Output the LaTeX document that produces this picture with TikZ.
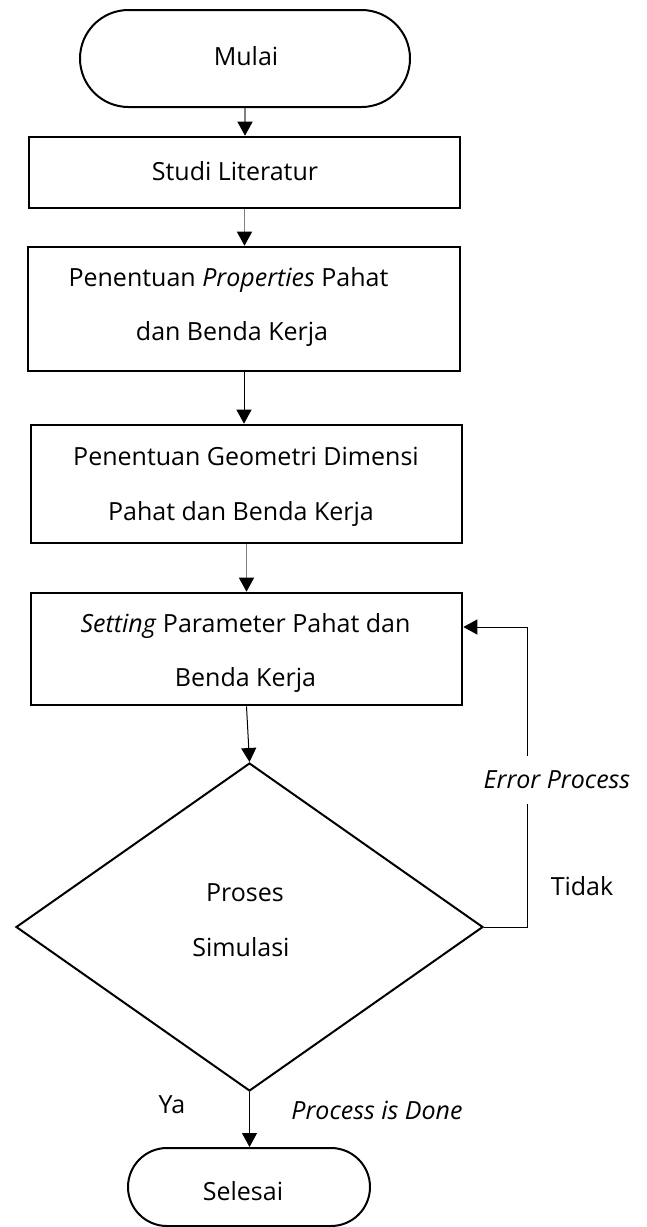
\documentclass[tikz,border=0pt]{standalone}
\usepackage{fontspec}
\setmainfont{Open Sans}
\usetikzlibrary{arrows.meta,shapes.geometric,shapes.misc}

\tikzset{
  txt/.style={anchor=base,inner sep=0pt,font=\fontsize{25}{29}\selectfont},
  terminal/.style={rounded rectangle,draw,line width=2pt,inner sep=0pt},
  procbox/.style={rectangle,draw,line width=2.6pt,inner sep=0pt},
  decision/.style={diamond,draw,line width=2pt,inner sep=0pt},
  tip/.style={-{Triangle[length=14pt,width=15pt,color=black]}},
  flowgray/.style={tip,draw=black!50,line width=1.4pt},
  flowblack/.style={tip,draw=black,line width=1pt},
}

\begin{document}
\begin{tikzpicture}[x=1pt,y=-1pt]
  \useasboundingbox[fill=white] (0,0) rectangle (646,1227);

  % start / end terminals
  \node[terminal,minimum width=330pt,minimum height=97pt] (mulai) at (245,58.5) {};
  \node[terminal,minimum width=242pt,minimum height=78pt] (selesai) at (249,1187) {};

  % process steps
  \node[procbox,minimum width=431pt,minimum height=71pt]  (studi) at (244.5,172.5) {};
  \node[procbox,minimum width=432pt,minimum height=124pt] (prop)  at (244,309) {};
  \node[procbox,minimum width=431pt,minimum height=118pt] (geo)   at (246.5,484) {};
  \node[procbox,minimum width=431pt,minimum height=112pt] (set)   at (246.5,649) {};

  % simulation check
  \node[decision,minimum width=467pt,minimum height=328pt,aspect=1.42] (dia) at (249.5,927) {};

  % texts
  \node[txt] (tMulai) at (246,65) {Mulai};
  \node[txt] (tStudi) at (235,180) {Studi Literatur};
  \node[txt] (tProp1) at (228.5,286.5) {Penentuan \textit{Properties} Pahat};
  \node[txt] (tProp2) at (232,340.5) {dan Benda Kerja};
  \node[txt] (tGeo1)  at (246,465) {Penentuan Geometri Dimensi};
  \node[txt] (tGeo2)  at (241,520) {Pahat dan Benda Kerja};
  \node[txt] (tSet1)  at (245.5,632) {\textit{Setting} Parameter Pahat dan};
  \node[txt] (tSet2)  at (245.5,686) {Benda Kerja};
  \node[txt] (tPro)   at (245,901.5) {Proses};
  \node[txt] (tSim)   at (241,956.5) {Simulasi};
  \node[txt] (tSel)   at (243,1200.5) {Selesai};

  % main flow
  \draw[flowgray]  (mulai.south) -- (mulai.south |- studi.north);
  \draw[flowgray]  (studi.south) -- (studi.south |- prop.north);
  \draw[flowblack] (prop.south)  -- (prop.south |- geo.north);
  \draw[flowgray]  (geo.south)   -- (geo.south |- set.north);
  \draw[flowblack] (set.south)   -- (dia.north);
  \draw[flowblack] (dia.south)   -- (dia.south |- selesai.north);

  % feedback loop on error
  \coordinate (fb) at (527,627);
  \draw[flowblack] (dia.east) -| (fb) -- (set.east |- fb);

  % connector labels
  \node[txt,fill=white,inner ysep=15pt] (lErr) at (557,788.5) {\textit{Error Process}};
  \node[txt] (lTidak) at (582,895.5) {Tidak};
  \node[txt] (lYa)    at (172,1113.5) {Ya};
  \node[txt] (lDone)  at (377,1119.5) {\textit{Process is Done}};
\end{tikzpicture}
\end{document}
